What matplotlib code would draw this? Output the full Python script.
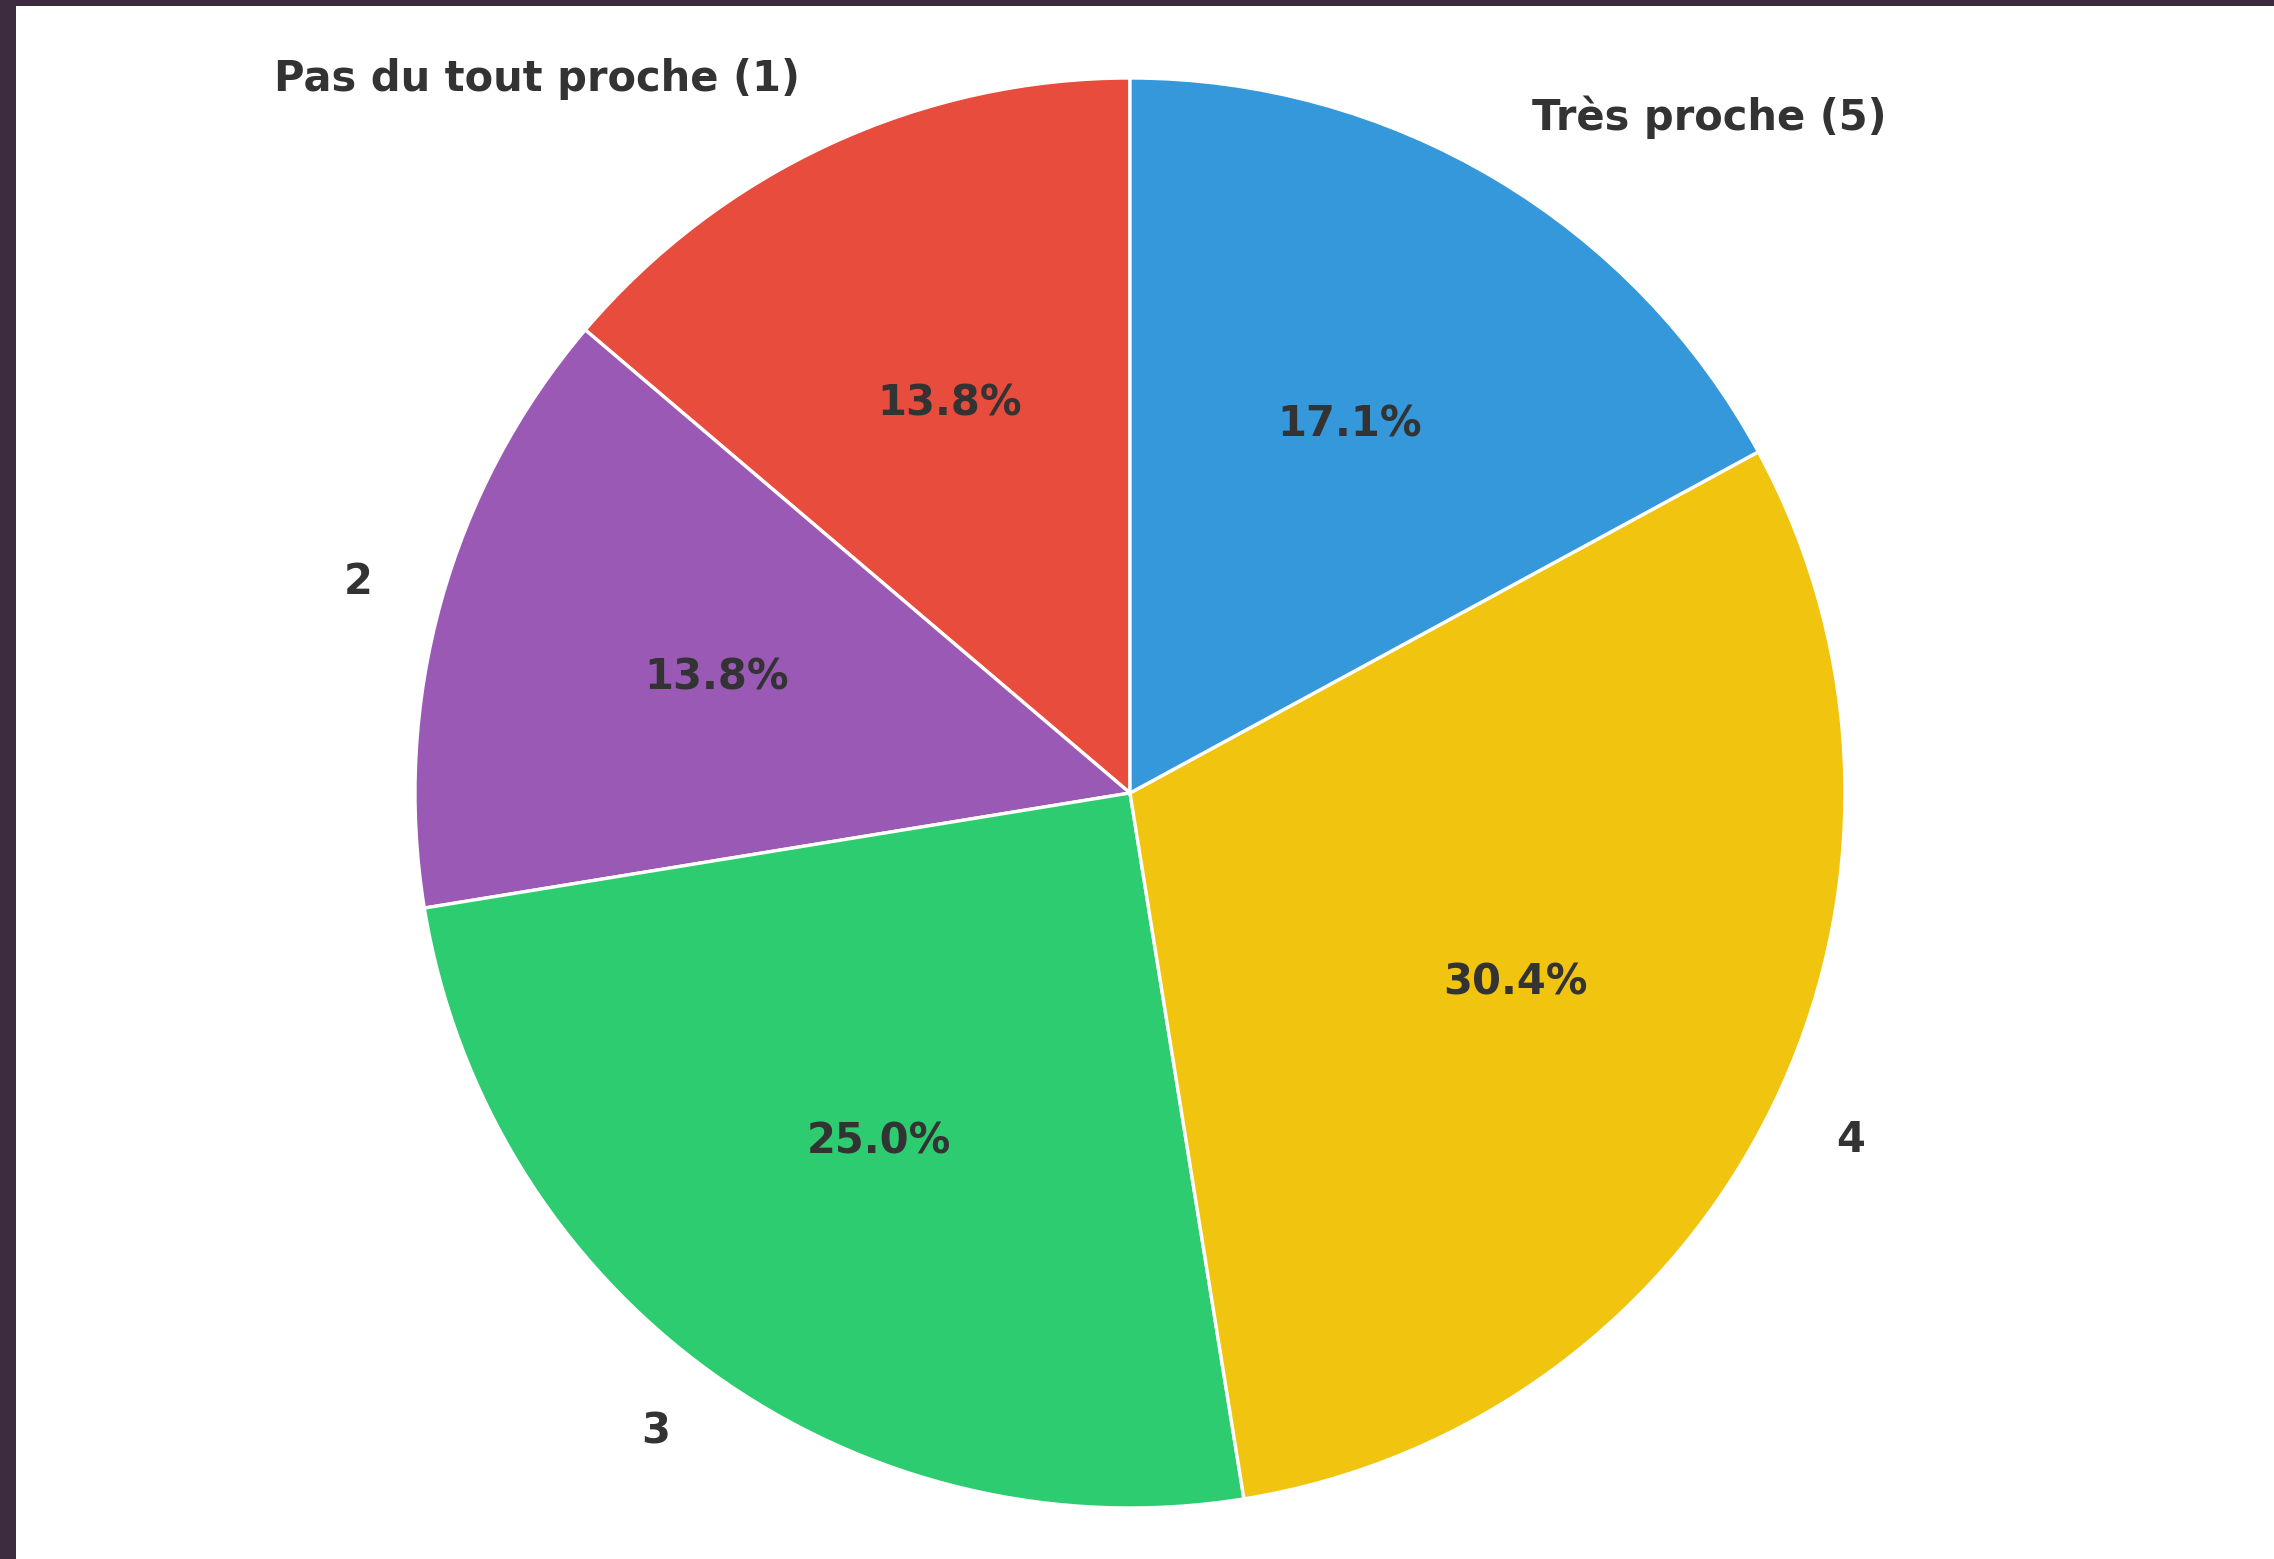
import matplotlib
matplotlib.use("Agg")
import matplotlib.pyplot as plt
from matplotlib.patches import Rectangle

# --- Data ---
labels = ["Pas du tout proche (1)", "2", "3", "4", "Très proche (5)"]
shares = [13.8, 13.8, 25.0, 30.4, 17.1]
colors = ["#e74c3c", "#9b59b6", "#2ecc71", "#f1c40f", "#3498db"]

W, H, DPI = 2274, 1559, 200
fig = plt.figure(figsize=(W / DPI, H / DPI), dpi=DPI)
fig.patch.set_facecolor("white")

# pie centre / radius in pixels (measured from reference)
cx, cy, r = 1130, H - 793, 715
ax = fig.add_axes([(cx - r) / W, (cy - r) / H, 2 * r / W, 2 * r / H])

wedges, texts, autotexts = ax.pie(
    shares,
    labels=labels,
    colors=colors,
    autopct="%1.1f%%",
    startangle=90,
    counterclock=True,
    pctdistance=0.6,
    labeldistance=1.1,
    wedgeprops={"edgecolor": "white", "linewidth": 1.2},
    textprops={"fontsize": 15, "fontweight": "bold", "color": "#333333"},
)
ax.set_xlim(-1, 1)
ax.set_ylim(-1, 1)
ax.set_aspect("equal")
ax.axis("off")

# dark window frame on the left and top edges
frame = "#3d2b3f"
fig.patches.append(Rectangle((0, 0), 16 / W, 1, transform=fig.transFigure,
                             facecolor=frame, edgecolor="none", zorder=10))
fig.patches.append(Rectangle((0, 1 - 6 / H), 1, 6 / H, transform=fig.transFigure,
                             facecolor=frame, edgecolor="none", zorder=10))

fig.savefig("out.png", dpi=DPI)
